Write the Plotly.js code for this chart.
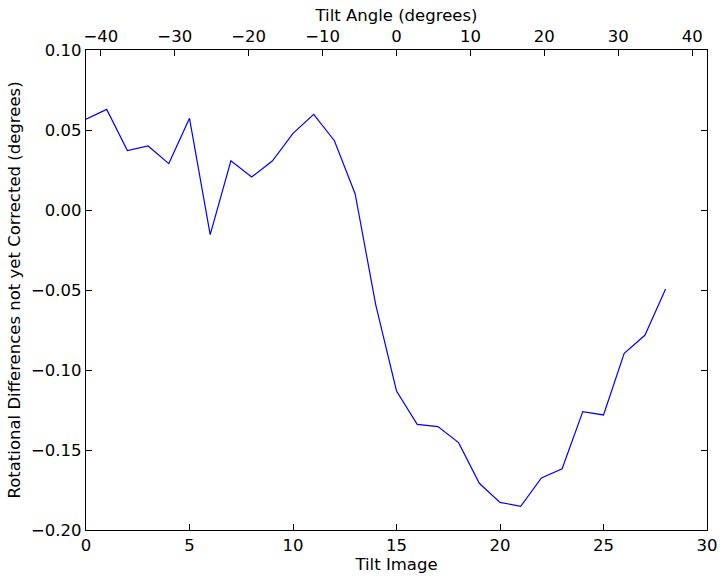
<!DOCTYPE html>
<html>
<head>
<meta charset="utf-8">
<script src="https://cdn.plot.ly/plotly-3.0.1.min.js"></script>
<style>html,body{margin:0;padding:0;background:#fff;}#chart{width:725px;height:579px;}</style>
</head>
<body>
<div id="chart"></div>
<script>
// Tilt image index
var tiltImage = [0,1,2,3,4,5,6,7,8,9,10,11,12,13,14,15,16,17,18,19,20,21,22,23,24,25,26,27,28];
// Rotational differences not yet corrected (degrees)
var rotDiff = [0.0567,0.0629,0.0371,0.0400,0.0290,0.0573,-0.0154,0.0308,0.0206,0.0306,
               0.0479,0.0598,0.0433,0.0102,-0.0594,-0.1131,-0.1340,-0.1354,-0.1454,-0.1708,
               -0.1827,-0.1852,-0.1675,-0.1617,-0.1260,-0.1281,-0.0896,-0.0783,-0.0494];
// Top axis: tilt angle extent (degrees)
var tiltAngleRange = [-42, 42];

var font = {family: 'DejaVu Sans', size: 16.5, color: '#000'};

var traces = [
  {x: tiltImage, y: rotDiff, type: 'scatter', mode: 'lines',
   line: {color: '#0000ff', width: 1.2}, xaxis: 'x', yaxis: 'y', hoverinfo: 'skip'},
  {x: tiltAngleRange, y: [null, null], type: 'scatter', mode: 'lines',
   xaxis: 'x2', yaxis: 'y', showlegend: false, hoverinfo: 'skip'}
];

var axCommon = {showgrid: false, zeroline: false, ticks: 'inside', ticklen: 6, tickwidth: 1,
  tickcolor: '#000', linecolor: '#000', linewidth: 1.2, showline: true, tickfont: font};

var layout = {
  width: 725, height: 579,
  margin: {l: 86, r: 18, t: 50, b: 49},
  paper_bgcolor: '#fff', plot_bgcolor: '#fff',
  showlegend: false,
  font: font,
  xaxis: Object.assign({}, axCommon, {range: [0, 30], dtick: 5, tick0: 0, mirror: false,
    title: {text: 'Tilt Image', font: font, standoff: 0}}),
  xaxis2: Object.assign({}, axCommon, {range: tiltAngleRange, dtick: 10, tick0: 0,
    overlaying: 'x', side: 'top', anchor: 'y',
    title: {text: 'Tilt Angle (degrees)', font: font, standoff: 1}}),
  yaxis: Object.assign({}, axCommon, {range: [-0.2, 0.1], dtick: 0.05, tick0: 0, tickformat: '.2f',
    mirror: 'ticks',
    title: {text: 'Rotational Differences not yet Corrected (degrees)', font: font, standoff: 6}})
};

Plotly.newPlot('chart', traces, layout, {displayModeBar: false, staticPlot: true});
</script>
</body>
</html>
